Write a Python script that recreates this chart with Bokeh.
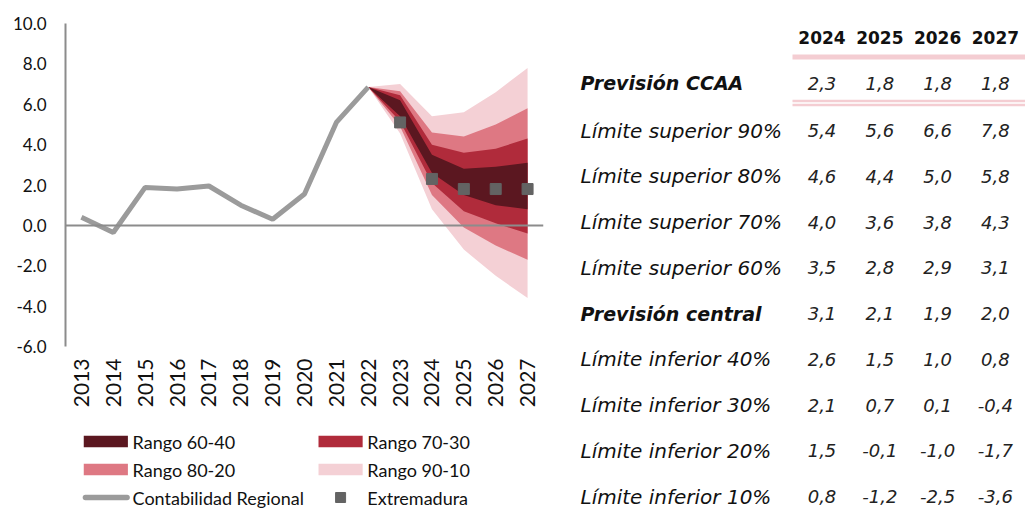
import math
from bokeh.plotting import figure
from bokeh.layouts import row, column
from bokeh.models import (Range1d, FixedTicker, NumeralTickFormatter, Span, ColumnDataSource)
from bokeh.core.properties import value
from bokeh.embed import file_html
from bokeh.resources import INLINE

# ---------------- data ----------------
hist_years = [2013, 2014, 2015, 2016, 2017, 2018, 2019, 2020, 2021, 2022]
hist_vals = [0.4, -0.35, 1.88, 1.8, 1.95, 1.0, 0.3, 1.55, 5.1, 6.85]

fan_years = [2022, 2023, 2024, 2025, 2026, 2027]
upper90 = [6.85, 7.0, 5.4, 5.6, 6.6, 7.8]
upper80 = [6.85, 6.65, 4.6, 4.4, 5.0, 5.8]
upper70 = [6.85, 6.45, 4.0, 3.6, 3.8, 4.3]
upper60 = [6.85, 6.2, 3.5, 2.8, 2.9, 3.1]
central = [6.85, 5.8, 3.1, 2.1, 1.9, 2.0]
lower40 = [6.85, 5.4, 2.6, 1.5, 1.0, 0.8]
lower30 = [6.85, 5.15, 2.1, 0.7, 0.1, -0.4]
lower20 = [6.85, 4.9, 1.5, -0.1, -1.0, -1.7]
lower10 = [6.85, 4.55, 0.8, -1.2, -2.5, -3.6]

extre_years = [2023, 2024, 2025, 2026, 2027]
extre_vals = [5.1, 2.3, 1.8, 1.8, 1.8]

band_labels = ["Rango 60-40", "Rango 70-30", "Rango 80-20", "Rango 90-10"]
line_label = "Contabilidad Regional"
mark_label = "Extremadura"

table_years = ["2024", "2025", "2026", "2027"]
row_labels = ["Previsión CCAA", "Límite superior 90%", "Límite superior 80%",
              "Límite superior 70%", "Límite superior 60%", "Previsión central",
              "Límite inferior 40%", "Límite inferior 30%", "Límite inferior 20%",
              "Límite inferior 10%"]
row_bold = [True, False, False, False, False, True, False, False, False, False]

y_ticks = [-6, -4, -2, 0, 2, 4, 6, 8, 10]

# ---------------- styles ----------------
C6040 = "#5B1720"
C7030 = "#B02B3B"
C8020 = "#DE7883"
C9010 = "#F4D0D5"
BAND_COLORS = [C6040, C7030, C8020, C9010]
GRAY_LINE = "#9B9B9B"
AXIS_GRAY = "#8C8C8C"
MARK = "#636363"
PINK_RULE = "#F4CDD2"
TXT = "#111111"

# ---------------- chart ----------------
p = figure(width=563, height=418, output_backend="svg", toolbar_location=None,
           x_range=Range1d(2012.5, 2027.5), y_range=Range1d(-6, 10),
           min_border_left=65, min_border_right=20, min_border_top=23, min_border_bottom=72)
p.outline_line_color = None
p.xgrid.visible = False
p.ygrid.visible = False
p.background_fill_color = "white"
p.border_fill_color = "white"

fan_src = ColumnDataSource(dict(x=fan_years, u90=upper90, u80=upper80, u70=upper70, u60=upper60,
                                l40=lower40, l30=lower30, l20=lower20, l10=lower10))
p.varea(x="x", y1="l10", y2="u90", source=fan_src, fill_color=C9010)
p.varea(x="x", y1="l20", y2="u80", source=fan_src, fill_color=C8020)
p.varea(x="x", y1="l30", y2="u70", source=fan_src, fill_color=C7030)
p.varea(x="x", y1="l40", y2="u60", source=fan_src, fill_color=C6040)

p.add_layout(Span(location=0, dimension="width", line_color=AXIS_GRAY, line_width=2))

p.line(hist_years, hist_vals, line_color=GRAY_LINE, line_width=5)
p.scatter(extre_years, extre_vals, marker="square", size=11, fill_color=MARK, line_color=MARK)

ya = p.yaxis[0]
ya.ticker = FixedTicker(ticks=y_ticks)
ya.formatter = NumeralTickFormatter(format="0.0")
ya.axis_line_color = AXIS_GRAY
ya.axis_line_width = 2
ya.major_tick_line_color = None
ya.minor_tick_line_color = None
ya.major_tick_out = 0
ya.major_tick_in = 0
ya.major_label_standoff = 19
ya.major_label_text_font = "Lato"
ya.major_label_text_font_size = "17px"
ya.major_label_text_color = TXT

xa = p.xaxis[0]
xa.ticker = FixedTicker(ticks=list(range(2013, 2028)))
xa.axis_line_color = None
xa.major_tick_line_color = None
xa.minor_tick_line_color = None
xa.major_tick_out = 0
xa.major_tick_in = 0
xa.major_label_orientation = math.pi / 2
xa.major_label_standoff = 12
xa.major_label_text_font = "Lato"
xa.major_label_text_font_size = "21px"
xa.major_label_text_color = TXT

# ---------------- legend panel (drawn in pixel-like coordinates) ----------------
LW, LH = 563, 91
lg = figure(width=LW, height=LH, output_backend="svg", toolbar_location=None,
            x_range=Range1d(0, LW), y_range=Range1d(LH, 0),
            x_axis_type=None, y_axis_type=None,
            min_border=0, min_border_left=0, min_border_right=0, min_border_top=0, min_border_bottom=0)
lg.xgrid.visible = False
lg.ygrid.visible = False
lg.outline_line_color = None

col_sw = [21.5, 298]      # swatch left edge per legend column
sw_w, sw_h = 52, 11.5
txt_gap = 5.5
rows_y = [23, 51, 79]

# band swatches: 2 columns x 2 rows
for i, (lab, colr) in enumerate(zip(band_labels, BAND_COLORS)):
    cx = col_sw[i % 2]
    cy = rows_y[i // 2]
    lg.quad(left=[cx], right=[cx + sw_w], top=[cy - sw_h / 2], bottom=[cy + sw_h / 2],
            fill_color=colr, line_color=None)
    lg.text(x=[cx + sw_w + txt_gap], y=[cy], text=[lab], text_align="left", text_baseline="middle",
            text_font=value("Lato"), text_font_size="18px", text_color=TXT)

# line swatch
lg.line(x=[col_sw[0] + 2, col_sw[0] + sw_w - 1], y=[rows_y[2], rows_y[2]], line_color=GRAY_LINE,
        line_width=5.5, line_cap="round")
lg.text(x=[col_sw[0] + sw_w + txt_gap], y=[rows_y[2]], text=[line_label], text_align="left",
        text_baseline="middle", text_font=value("Lato"), text_font_size="18px", text_color=TXT)

# marker swatch
lg.scatter(x=[col_sw[1] + sw_w / 2], y=[rows_y[2]], marker="square", size=10,
           fill_color=MARK, line_color=MARK)
lg.text(x=[col_sw[1] + sw_w + txt_gap], y=[rows_y[2]], text=[mark_label], text_align="left",
        text_baseline="middle", text_font=value("Lato"), text_font_size="18px", text_color=TXT)

# ---------------- table figure ----------------
TW, TH = 462, 509
t = figure(width=TW, height=TH, output_backend="svg", toolbar_location=None,
           x_range=Range1d(0, TW), y_range=Range1d(TH, 0),
           x_axis_type=None, y_axis_type=None,
           min_border=0, min_border_left=0, min_border_right=0, min_border_top=0, min_border_bottom=0)
t.xgrid.visible = False
t.ygrid.visible = False
t.outline_line_color = None

col_x0, col_dx = 258.5, 57.8
header_y = 37
first_row_y, second_row_y, row_dy = 82.5, 130, 45.75
label_x = 17
rule_x0 = 229

col_x = [col_x0 + i * col_dx for i in range(len(table_years))]
row_y = [first_row_y] + [second_row_y + i * row_dy for i in range(len(row_labels) - 1)]

# rules
t.segment(x0=[rule_x0], y0=[56.5], x1=[TW], y1=[56.5], line_color=PINK_RULE, line_width=5)
t.segment(x0=[rule_x0, rule_x0], y0=[100.5, 104.5], x1=[TW, TW], y1=[100.5, 104.5],
          line_color=PINK_RULE, line_width=2.5)

# header
t.text(x=col_x, y=[header_y] * len(col_x), text=table_years, text_align="center",
       text_baseline="middle", text_font=value("DejaVu Sans"), text_font_style="bold",
       text_font_size="17px", text_color=TXT)

# row labels
for lbl, yy, b in zip(row_labels, row_y, row_bold):
    t.text(x=[label_x], y=[yy], text=[lbl], text_align="left", text_baseline="middle",
           text_font=value("DejaVu Sans"), text_font_style="bold italic" if b else "italic",
           text_font_size="19px" if b else "20px", text_color=TXT)

# values
table_rows = [extre_vals[1:], upper90[2:], upper80[2:], upper70[2:], upper60[2:], central[2:],
              lower40[2:], lower30[2:], lower20[2:], lower10[2:]]
fmt = lambda v: f"{v:.1f}".replace(".", ",")
xs, ys, txts = [], [], []
for vals, yy in zip(table_rows, row_y):
    for v, xx in zip(vals, col_x):
        xs.append(xx); ys.append(yy); txts.append(fmt(v))
t.text(x=xs, y=ys, text=txts, text_align="center", text_baseline="middle",
       text_font=value("DejaVu Sans"), text_font_style="italic", text_font_size="18px",
       text_color="#222222")

layout = row(column(p, lg), t)
open("out.html", "w").write(file_html(layout, INLINE))
